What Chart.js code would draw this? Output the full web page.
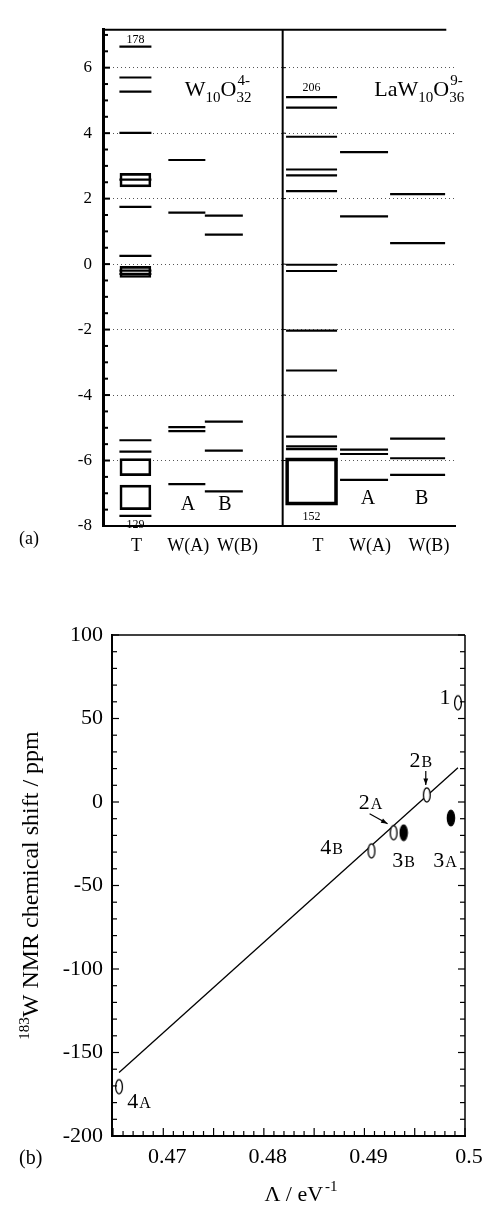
<!DOCTYPE html>
<html>
<head>
<meta charset="utf-8">
<script src="https://cdn.jsdelivr.net/npm/chart.js@4.4.0/dist/chart.umd.min.js"></script>
<style>
  body { margin: 0; background: #fff; }
  #wrap { position: relative; width: 485px; height: 1207px; }
  canvas { position: absolute; left: 0; }
  #chartA { top: 0; }
  #chartB { top: 600px; }
</style>
</head>
<body>
<div id="wrap">
  <canvas id="chartA" width="485" height="600" style="width:485px;height:600px"></canvas>
  <canvas id="chartB" width="485" height="607" style="width:485px;height:607px"></canvas>
</div>
<script>
// ---- (a) energy levels (eV) ----
const columnsA = ['T', 'W(A)', 'W(B)', 'T', 'W(A)', 'W(B)'];
// W10O32 4-
const w10_T = [6.64, 5.70, 5.27, 4.01, 2.58, 1.75, 0.25, -0.20, -0.30, -5.38, -5.73, -7.69];
const w10_T_bands = [[2.36, 2.77], [-0.41, -0.07], [-6.46, -5.94], [-7.50, -6.75]];
const w10_WA = [3.18, 1.57, -4.98, -5.10, -6.72];
const w10_WB = [1.48, 0.90, -4.81, -5.70, -6.94];
// LaW10O36 9-
const la_T = [5.10, 4.78, 3.89, 2.89, 2.71, 2.23, -0.02, -0.21, -2.03, -3.25, -5.27, -5.57, -5.65];
const la_T_bands = [[-7.36, -5.92]];
const la_WA = [3.42, 1.46, -5.67, -5.80, -6.59];
const la_WB = [2.14, 0.64, -5.33, -5.93, -6.44];
// numbers written above / below the T columns
const countsTop = ['178', '206'];
const countsBottom = ['129', '152'];

// ---- (b) 183W NMR shift vs Lambda ----
const openLabels = ['1', '2B', '2A', '4B', '4A'];
const openX = [0.4993, 0.4962, 0.4929, 0.4907, 0.4656];
const openY = [59.4, 4.2, -18.4, -29.3, -170.5];
const filledLabels = ['3A', '3B'];
const filledX = [0.4986, 0.4939];
const filledY = [-9.6, -18.4];
const fitX = [0.4656, 0.4993];
const fitY = [-162, 20.5];
const xTicksB = [0.47, 0.48, 0.49, 0.5];

// layout for (a): x runs 0..100 across the plot
const colCenter = [9.2, 23.8, 34.3, 59.2, 74.1, 89.3];
const colHalfPx = [16, 18.5, 19, 25.5, 24, 27.5];
const colLabelAt = [9.5, 24.2, 38.2, 61.0, 75.8, 92.5];
const dividerAt = 51;

const SERIF = '"Liberation Serif", "Times New Roman", serif';
Chart.defaults.font.family = SERIF;
Chart.defaults.color = '#000';

function seg(ctx, x1, y1, x2, y2) {
  ctx.beginPath(); ctx.moveTo(x1, y1); ctx.lineTo(x2, y2); ctx.stroke();
}

function drawFormula(ctx, x, y, main1, sub1, main2, sub2, sup) {
  const big = '22px ' + SERIF, small = '15px ' + SERIF;
  ctx.textAlign = 'left'; ctx.textBaseline = 'alphabetic';
  ctx.font = big; ctx.fillText(main1, x, y); x += ctx.measureText(main1).width;
  ctx.font = small; ctx.fillText(sub1, x, y + 6); x += ctx.measureText(sub1).width;
  ctx.font = big; ctx.fillText(main2, x, y); x += ctx.measureText(main2).width;
  ctx.font = small; ctx.fillText(sub2, x, y + 6); ctx.fillText(sup, x + 1, y - 11);
}

const frameA = {
  id: 'frameA',
  afterDraw(chart) {
    const {ctx, chartArea: a, scales: {x, y}} = chart;
    ctx.save();
    ctx.strokeStyle = '#000'; ctx.fillStyle = '#000';
    ctx.lineWidth = 2;
    seg(ctx, a.left, a.top, a.right - 9, a.top);
    const dx = x.getPixelForValue(dividerAt);
    seg(ctx, dx, a.top, dx, a.bottom);
    // inward ticks
    for (let v = -8; v <= 7; v += 0.5) {
      const py = y.getPixelForValue(v);
      ctx.lineWidth = 2;
      seg(ctx, a.left, py, a.left + (v % 2 === 0 ? 7 : 5), py);
      if (v % 2 === 0) { ctx.lineWidth = 1; seg(ctx, dx, py, dx + 3, py); }
    }
    // level counts
    ctx.font = '12px ' + SERIF; ctx.textAlign = 'center'; ctx.textBaseline = 'alphabetic';
    ctx.fillText(countsTop[0], x.getPixelForValue(colCenter[0]), y.getPixelForValue(Math.max(...w10_T)) - 4);
    ctx.fillText(countsBottom[0], x.getPixelForValue(colCenter[0]), y.getPixelForValue(Math.min(...w10_T)) + 12);
    ctx.fillText(countsTop[1], x.getPixelForValue(colCenter[3]), y.getPixelForValue(Math.max(...la_T)) - 6);
    ctx.fillText(countsBottom[1], x.getPixelForValue(colCenter[3]), y.getPixelForValue(la_T_bands[0][0]) + 15);
    // A / B inside plot
    ctx.font = '20px ' + SERIF; ctx.textBaseline = 'middle';
    [[1, 'A'], [2, 'B'], [4, 'A'], [5, 'B']].forEach(([i, t]) => {
      ctx.fillText(t, x.getPixelForValue(colCenter[i]) + (i > 3 ? 4 : 1), a.bottom - (i > 3 ? 27 : 21));
    });
    // formulas
    drawFormula(ctx, x.getPixelForValue(23.2), y.getPixelForValue(5.13), 'W', '10', 'O', '32', '4-');
    drawFormula(ctx, x.getPixelForValue(77), y.getPixelForValue(5.13), 'LaW', '10', 'O', '36', '9-');
    // panel tag
    ctx.font = '18px ' + SERIF; ctx.textAlign = 'left'; ctx.textBaseline = 'alphabetic';
    ctx.fillText('(a)', 19, 544);
    ctx.restore();
  }
};

const levelSets = [w10_T, w10_WA, w10_WB, la_T, la_WA, la_WB];
const datasetsA = levelSets.map((levels, i) => ({
  type: 'scatter',
  data: levels.map(e => ({x: colCenter[i], y: e})),
  pointStyle: 'line',
  pointRadius: colHalfPx[i],
  pointBorderWidth: 2.2,
  pointBorderColor: '#000',
  showLine: false
}));
const bandStyle = {
  type: 'bar', grouped: false, barPercentage: 1, categoryPercentage: 1,
  borderColor: '#000', backgroundColor: 'rgba(0,0,0,0)', borderSkipped: false
};
datasetsA.push({
  ...bandStyle, xAxisID: 'x',
  data: w10_T_bands.map(b => ({x: colCenter[0], y: b})),
  maxBarThickness: 31, borderWidth: 2
});
datasetsA.push({
  ...bandStyle, xAxisID: 'x2',
  data: la_T_bands.map(b => ({x: colCenter[3], y: b})),
  maxBarThickness: 52, borderWidth: 3
});

new Chart(document.getElementById('chartA'), {
  type: 'scatter',
  data: {datasets: datasetsA},
  options: {
    responsive: false, animation: false, events: [],
    layout: {padding: {left: 0, right: 23, top: 14, bottom: 0}},
    plugins: {legend: {display: false}, tooltip: {enabled: false}},
    scales: {
      x: {
        type: 'linear', min: 0, max: 100, offset: false,
        grid: {display: false, drawTicks: false},
        border: {display: true, color: '#000', width: 2},
        afterBuildTicks: s => { s.ticks = colLabelAt.map(v => ({value: v})); },
        afterFit: s => { s.height = 74; s.paddingLeft = 0; s.paddingRight = 0; },
        ticks: {autoSkip: false, maxRotation: 0, padding: 9, font: {size: 18},
          callback: (v, i) => columnsA[i]}
      },
      x2: {
        type: 'linear', min: 0, max: 100, display: false, offset: false,
        afterBuildTicks: s => { s.ticks = [{value: 0}, {value: 100}]; }
      },
      y: {
        min: -8, max: 7.16,
        grid: {drawTicks: false, color: '#555', lineWidth: 1},
        border: {display: true, color: '#000', width: 3, dash: [1, 3]},
        afterFit: s => { s.width = 103; s.paddingTop = 0; s.paddingBottom = 0; },
        ticks: {stepSize: 2, includeBounds: false, padding: 11, font: {size: 17}}
      }
    }
  },
  plugins: [frameA]
});

// ---- chart (b) ----
function ellipseMarker(filled) {
  const c = document.createElement('canvas');
  c.width = 10; c.height = 18;
  const g = c.getContext('2d');
  g.beginPath(); g.ellipse(5, 9, filled ? 3.6 : 3.4, filled ? 7.8 : 7.2, 0, 0, Math.PI * 2);
  g.fillStyle = filled ? '#000' : '#fff'; g.fill();
  g.lineWidth = 1.3; g.strokeStyle = '#000'; g.stroke();
  return c;
}

const tagOffset = {'1': [-13, -7], '2B': [-6, -36], '2A': [-23, -32], '4B': [-40, -5],
  '3B': [0, 26], '3A': [-6, 41], '4A': [20, 13]};
const arrows = {'2B': [[-1, -24], [-1, -10]], '2A': [[-24, -19], [-6, -9]]};

function drawTag(ctx, text, cx, cy) {
  const num = text.replace(/[A-Z]/g, ''), letter = text.replace(/[0-9]/g, '');
  const fNum = '22px ' + SERIF, fLet = '16px ' + SERIF;
  ctx.font = fNum; const w1 = ctx.measureText(num).width;
  ctx.font = fLet; const w2 = letter ? ctx.measureText(letter).width + 1 : 0;
  let x = cx - (w1 + w2) / 2;
  ctx.textAlign = 'left'; ctx.textBaseline = 'alphabetic';
  ctx.font = fNum; ctx.fillText(num, x, cy + 8);
  if (letter) { ctx.font = fLet; ctx.fillText(letter, x + w1 + 1, cy + 8); }
}

function arrow(ctx, x1, y1, x2, y2) {
  seg(ctx, x1, y1, x2, y2);
  const ang = Math.atan2(y2 - y1, x2 - x1);
  ctx.beginPath();
  ctx.moveTo(x2, y2);
  ctx.lineTo(x2 - 7 * Math.cos(ang - 0.35), y2 - 7 * Math.sin(ang - 0.35));
  ctx.lineTo(x2 - 7 * Math.cos(ang + 0.35), y2 - 7 * Math.sin(ang + 0.35));
  ctx.closePath(); ctx.fill();
}

const frameB = {
  id: 'frameB',
  afterDraw(chart) {
    const {ctx, chartArea: a, scales: {x, y}} = chart;
    ctx.save();
    ctx.strokeStyle = '#000'; ctx.fillStyle = '#000';
    ctx.lineWidth = 1.5;
    seg(ctx, a.left, a.top, a.right, a.top);
    seg(ctx, a.right, a.top, a.right, a.bottom);
    ctx.lineWidth = 1.2;
    for (let v = -200; v <= 100; v += 10) {
      const py = y.getPixelForValue(v), len = v % 50 === 0 ? 7 : 5;
      seg(ctx, a.left, py, a.left + len, py);
      seg(ctx, a.right, py, a.right - len, py);
    }
    for (let k = Math.ceil(x.min * 1000); k <= Math.floor(x.max * 1000 + 1e-6); k++) {
      const px = x.getPixelForValue(k / 1000), len = k % 5 === 0 ? 8 : 5;
      seg(ctx, px, a.bottom, px, a.bottom - len);
    }
    // point tags and arrows
    const tagAll = (labels, xs, ys) => labels.forEach((t, i) => {
      const px = x.getPixelForValue(xs[i]), py = y.getPixelForValue(ys[i]);
      drawTag(ctx, t, px + tagOffset[t][0], py + tagOffset[t][1]);
      if (arrows[t]) {
        const [[ax, ay], [bx, by]] = arrows[t];
        ctx.lineWidth = 1.2;
        arrow(ctx, px + ax, py + ay, px + bx, py + by);
      }
    });
    tagAll(openLabels, openX, openY);
    tagAll(filledLabels, filledX, filledY);
    // y title
    ctx.save();
    ctx.translate(38, (a.top + a.bottom) / 2);
    ctx.rotate(-Math.PI / 2);
    ctx.font = '15px ' + SERIF; const wSup = ctx.measureText('183').width;
    ctx.font = '24px ' + SERIF; const wMain = ctx.measureText('W NMR chemical shift / ppm').width;
    let sx = -(wSup + wMain) / 2;
    ctx.textAlign = 'left'; ctx.textBaseline = 'alphabetic';
    ctx.font = '15px ' + SERIF; ctx.fillText('183', sx, -9);
    ctx.font = '24px ' + SERIF; ctx.fillText('W NMR chemical shift / ppm', sx + wSup, 0);
    ctx.restore();
    // x title
    ctx.font = '22px ' + SERIF; const wl = ctx.measureText('\u039B / eV').width;
    ctx.font = '15px ' + SERIF; const ws = ctx.measureText('-1').width;
    let tx = 300 - (wl + ws) / 2;
    ctx.textAlign = 'left';
    ctx.font = '22px ' + SERIF; ctx.fillText('\u039B / eV', tx, 601);
    ctx.font = '15px ' + SERIF; ctx.fillText('-1', tx + wl + 2, 591);
    // panel tag
    ctx.font = '20px ' + SERIF; ctx.fillText('(b)', 19, 564);
    ctx.restore();
  }
};

new Chart(document.getElementById('chartB'), {
  type: 'scatter',
  data: {
    datasets: [
      {type: 'scatter', data: openX.map((v, i) => ({x: v, y: openY[i]})),
        pointStyle: ellipseMarker(false), pointRadius: 6},
      {type: 'scatter', data: filledX.map((v, i) => ({x: v, y: filledY[i]})),
        pointStyle: ellipseMarker(true), pointRadius: 6},
      {type: 'line', data: fitX.map((v, i) => ({x: v, y: fitY[i]})),
        borderColor: '#000', borderWidth: 1.3, pointRadius: 0, fill: false}
    ]
  },
  options: {
    responsive: false, animation: false, events: [],
    layout: {padding: {left: 0, right: 20, top: 35, bottom: 0}},
    plugins: {legend: {display: false}, tooltip: {enabled: false}},
    scales: {
      x: {
        type: 'linear', min: 0.4649, max: 0.5,
        grid: {display: false, drawTicks: false},
        border: {display: true, color: '#000', width: 2},
        afterBuildTicks: s => { s.ticks = xTicksB.map(v => ({value: v})); },
        afterFit: s => { s.height = 71; s.paddingLeft = 0; s.paddingRight = 0; },
        ticks: {autoSkip: false, maxRotation: 0, padding: 8, labelOffset: 4, font: {size: 22},
          callback: v => String(+v.toFixed(4))}
      },
      y: {
        min: -200, max: 100,
        grid: {display: false, drawTicks: false},
        border: {display: true, color: '#000', width: 2},
        afterFit: s => { s.width = 112; s.paddingTop = 0; s.paddingBottom = 0; },
        ticks: {stepSize: 50, padding: 9, font: {size: 22}}
      }
    }
  },
  plugins: [frameB]
});
</script>
</body>
</html>
